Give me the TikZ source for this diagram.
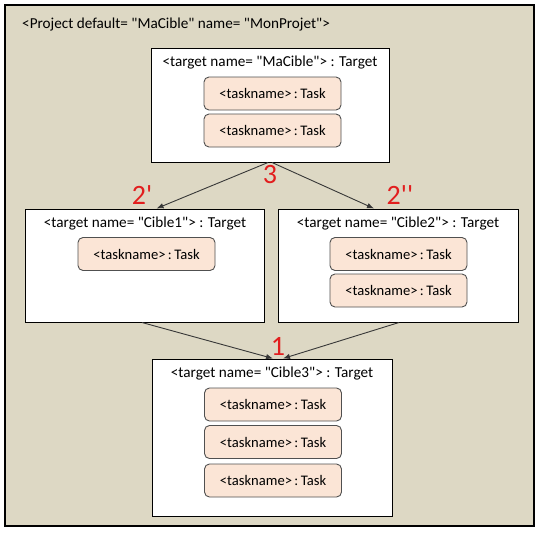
\documentclass[tikz,border=0pt]{standalone}
\usepackage{fontspec}
\setmainfont{Carlito}
\usetikzlibrary{arrows.meta}
\definecolor{bg}{RGB}{221,216,196}
\definecolor{taskfill}{RGB}{251,229,214}
\definecolor{taskborder}{RGB}{80,80,80}
\definecolor{labred}{RGB}{226,30,30}
\definecolor{linkcol}{RGB}{55,55,55}
\newcommand{\dq}{\textquotedbl}
\begin{document}
\begin{tikzpicture}[x=1pt,y=-1pt,
  outerbox/.style={draw=black, line width=1.1pt, fill=bg},
  targetbox/.style={draw=black, line width=1pt, fill=white, inner sep=0pt},
  taskbox/.style={draw=taskborder, line width=0.9pt, fill=taskfill, rounded corners=5pt,
    minimum width=137pt, minimum height=33pt, inner sep=0pt, font=\fontsize{14.6}{16}\selectfont},
  titletext/.style={inner sep=0pt, font=\fontsize{15.2}{17}\selectfont},
  steplabel/.style={inner sep=0pt, text=labred, font=\fontsize{28}{30}\selectfont},
  link/.style={draw=linkcol, line width=0.9pt, -{Latex[length=7pt,width=5.5pt]}}
]
\useasboundingbox (0,0) rectangle (543,533);
\fill[white] (0,0) rectangle (543,533);
\draw[outerbox] (5,5) rectangle (534,526);
\node[titletext, anchor=west] (proj) at (22,25) {<Project default= \dq MaCible\dq{} name= \dq MonProjet\dq>};

% target boxes
\node[targetbox, minimum width=238pt, minimum height=114pt] (top) at (270,105) {};
\node[targetbox, minimum width=239pt, minimum height=113pt] (c1) at (144.5,265.5) {};
\node[targetbox, minimum width=240pt, minimum height=113pt] (c2) at (398,265.5) {};
\node[targetbox, minimum width=240pt, minimum height=157pt] (c3) at (272,437.5) {};

% titles
\node[titletext] (ttop) at (270,63) {<target name= \dq MaCible\dq> : Target};
\node[titletext] (tc1) at (145,224) {<target name= \dq Cible1\dq> : Target};
\node[titletext] (tc2) at (398,224) {<target name= \dq Cible2\dq> : Target};
\node[titletext] (tc3) at (272,374) {<target name= \dq Cible3\dq> : Target};

% tasks
\node[taskbox] (k1) at (272.5,93.5) {<taskname>\,:\,Task};
\node[taskbox] (k2) at (272.5,130.5) {<taskname>\,:\,Task};
\node[taskbox] (k3) at (146.5,254) {<taskname>\,:\,Task};
\node[taskbox] (k4) at (398.5,254) {<taskname>\,:\,Task};
\node[taskbox] (k5) at (398.5,290.5) {<taskname>\,:\,Task};
\node[taskbox] (k6) at (273,404.5) {<taskname>\,:\,Task};
\node[taskbox] (k7) at (273,442) {<taskname>\,:\,Task};
\node[taskbox] (k8) at (273,480.5) {<taskname>\,:\,Task};

% connectors
\draw[link] ([xshift=-2pt]top.south) -- ([xshift=12pt]c1.north);
\draw[link] ([xshift=2pt]top.south) -- ([xshift=-24pt]c2.north);
\draw[link] ([xshift=-2.5pt]c1.south) -- ([xshift=1pt]c3.north);
\draw[link] ([xshift=1pt]c2.south) -- ([xshift=11pt]c3.north);

% step labels
\node[steplabel] (l3) at (270,175) {3};
\node[steplabel] (l2a) at (142,195) {2\textquotesingle};
\node[steplabel] (l2b) at (400,195) {2\textquotesingle\textquotesingle};
\node[steplabel] (l1) at (278,346) {1};
\end{tikzpicture}
\end{document}
